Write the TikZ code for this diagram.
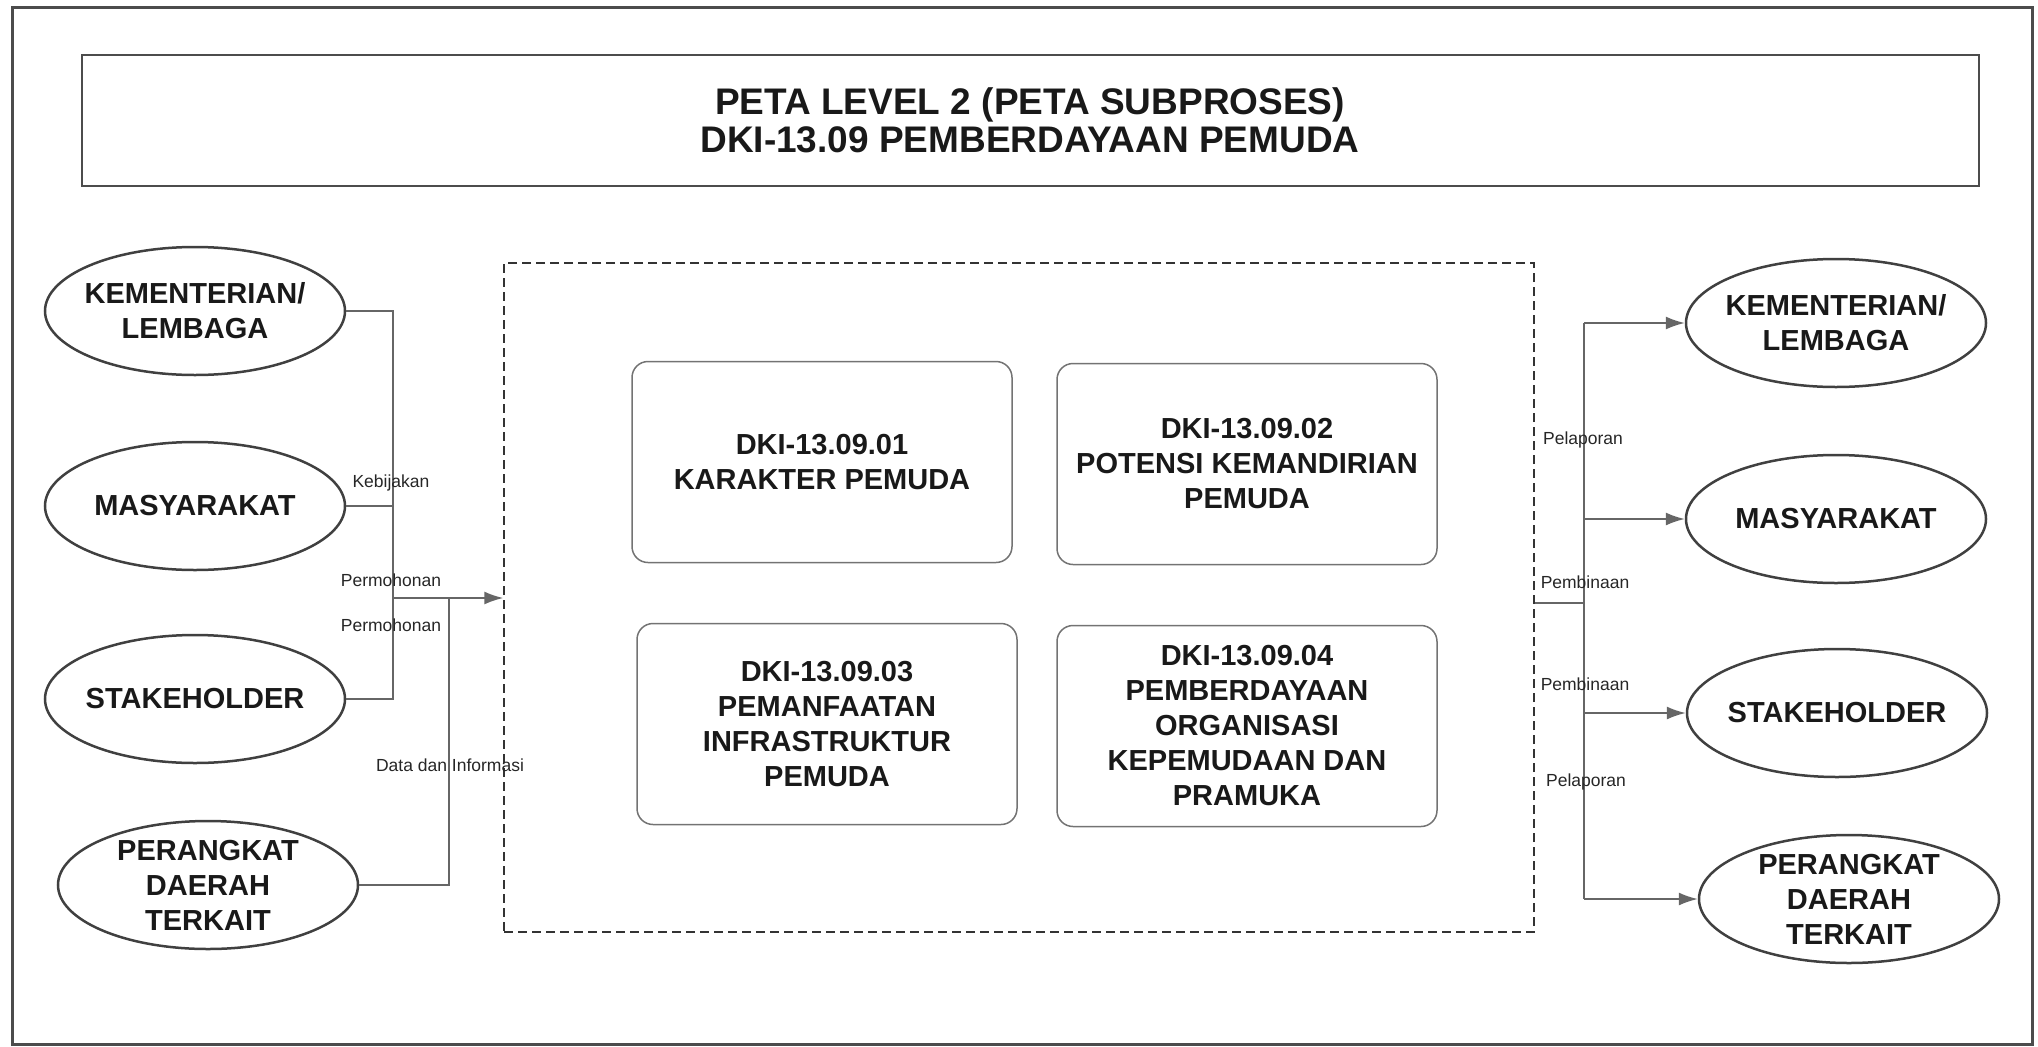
\documentclass[tikz,border=0pt]{standalone}
\usepackage{fontspec}
\setmainfont{Liberation Sans}
\usepackage{xcolor}
\usepackage{tikz}
\usetikzlibrary{positioning, arrows.meta, shapes.geometric}

\begin{document}
\begin{tikzpicture}[x=1pt, y=-1pt,
  pihak/.style={ellipse, draw=black!75, line width=2.5pt, minimum width=300pt, minimum height=128pt, inner xsep=-12pt, inner ysep=-4pt, align=center, font=\fontsize{29}{35}\selectfont\bfseries, text=black!90},
  subproses/.style={rectangle, rounded corners=16pt, draw=black!55, line width=1.5pt, minimum width=380pt, minimum height=201pt, align=center, font=\fontsize{29}{35}\selectfont\bfseries, text=black!90},
  ket/.style={font=\fontsize{17.5}{20}\selectfont, text=black!85, inner sep=1pt},
  alur/.style={draw=black!60, line width=1.6pt},
  panah/.style={alur, -{Latex[length=19pt, width=13pt]}}]
\useasboundingbox (0,0) rectangle (2038,1047);
\draw[black!70, line width=3pt] (12,7) rectangle (2032,1044);
\node[draw=black!70, line width=2pt, minimum width=1897pt, minimum height=131pt, align=center, font=\fontsize{37}{38}\selectfont\bfseries, text=black!90] (judul) at (1030,120) {PETA LEVEL 2 (PETA SUBPROSES)\\DKI-13.09 PEMBERDAYAAN PEMUDA};
\node[draw=black!80, dash pattern=on 9pt off 5pt, line width=1.5pt, minimum width=1030pt, minimum height=669pt] (proses) at (1019,597.5) {};

\node[subproses] (sp1) at (822,462) {DKI-13.09.01\\KARAKTER PEMUDA};
\node[subproses] (sp2) at (1247,464) {DKI-13.09.02\\POTENSI KEMANDIRIAN\\PEMUDA};
\node[subproses] (sp3) at (827,724) {DKI-13.09.03\\PEMANFAATAN\\INFRASTRUKTUR\\PEMUDA};
\node[subproses] (sp4) at (1247,726) {DKI-13.09.04\\PEMBERDAYAAN\\ORGANISASI\\KEPEMUDAAN DAN\\PRAMUKA};

\node[pihak] (kemL) at (195,311) {KEMENTERIAN/\\LEMBAGA};
\node[pihak] (masL) at (195,506) {MASYARAKAT};
\node[pihak] (stkL) at (195,699) {STAKEHOLDER};
\node[pihak] (prkL) at (208,885) {PERANGKAT\\DAERAH\\TERKAIT};
\node[pihak] (kemR) at (1836,323) {KEMENTERIAN/\\LEMBAGA};
\node[pihak] (masR) at (1836,519) {MASYARAKAT};
\node[pihak] (stkR) at (1837,713) {STAKEHOLDER};
\node[pihak] (prkR) at (1849,899) {PERANGKAT\\DAERAH\\TERKAIT};

\coordinate (busL) at (393,598);
\coordinate (busL2) at (449,598);
\coordinate (busR) at (1584,603);

\draw[alur] (kemL.east) -- (kemL.east -| busL) -- (stkL.east -| busL) -- (stkL.east);
\draw[alur] (masL.east) -- (masL.east -| busL);
\draw[panah] (busL) -- (busL -| proses.west);
\draw[alur] (prkL.east) -- (prkL.east -| busL2) -- (busL2);

\draw[alur] (busR -| proses.east) -- (busR);
\draw[alur] (kemR.west -| busR) -- (prkR.west -| busR);
\foreach \p in {kemR, masR, stkR, prkR}
  \draw[panah] (\p.west -| busR) -- (\p.west);

\node[ket] (lKeb) at (391,483) {Kebijakan};
\node[ket] (lMoh1) at (391,580) {Permohonan};
\node[ket] (lMoh2) at (391,625) {Permohonan};
\node[ket] (lData) at (450,765) {Data dan Informasi};
\node[ket] (lLap1) at (1583,440) {Pelaporan};
\node[ket] (lBin1) at (1585,582) {Pembinaan};
\node[ket] (lBin2) at (1585,684) {Pembinaan};
\node[ket] (lLap2) at (1586,782) {Pelaporan};
\end{tikzpicture}
\end{document}
